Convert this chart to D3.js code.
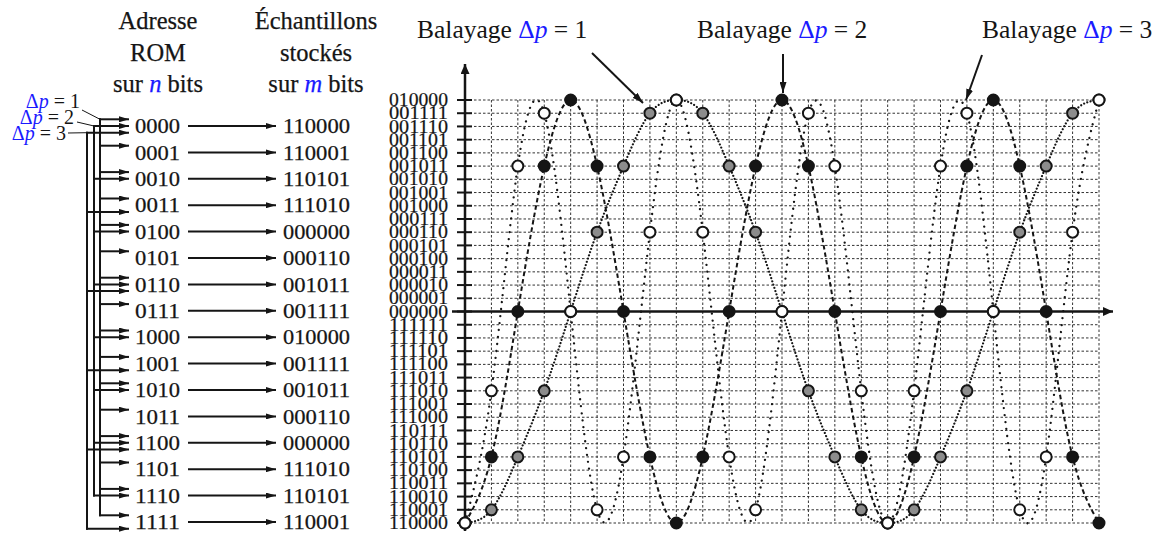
<!DOCTYPE html>
<html>
<head>
<meta charset="utf-8">
<script src="https://cdn.jsdelivr.net/npm/d3@7/dist/d3.min.js"></script>
<style>
  html, body { margin: 0; padding: 0; background: #fff; }
  svg { display: block; font-family: "Liberation Serif", "DejaVu Serif", serif; }
</style>
</head>
<body>
<svg id="chart" width="1162" height="535"></svg>
<script>
// ---------------- DATA ----------------
const romAddresses = ["0000","0001","0010","0011","0100","0101","0110","0111",
                      "1000","1001","1010","1011","1100","1101","1110","1111"];
const romSamples   = ["110000","110001","110101","111010","000000","000110","001011","001111",
                      "010000","001111","001011","000110","000000","111010","110101","110001"];
// ROM addresses reached by each sweep (left tree)
const sweepAddr1 = [0,1,2,3,4,5,6,7,8,9,10,11,12,13,14,15];
const sweepAddr2 = [0,2,4,6,8,10,12,14];
const sweepAddr3 = [0,3,6,9,12,15];
// y axis levels and tick labels (two's complement, 6 bits)
const levelValues = [16,15,14,13,12,11,10,9,8,7,6,5,4,3,2,1,0,
                     -1,-2,-3,-4,-5,-6,-7,-8,-9,-10,-11,-12,-13,-14,-15,-16];
const levelLabels = ["010000","001111","001110","001101","001100","001011","001010","001001",
                     "001000","000111","000110","000101","000100","000011","000010","000001",
                     "000000","111111","111110","111101","111100","111011","111010","111001",
                     "111000","110111","110110","110101","110100","110011","110010","110001","110000"];
// sample index (clock ticks)
const ticks = [0,1,2,3,4,5,6,7,8,9,10,11,12,13,14,15,16,17,18,19,20,21,22,23,24];
// output samples for each sweep
const sweep1 = [-16,-15,-11,-6,0,6,11,15,16,15,11,6,0,-6,-11,-15,-16,-15,-11,-6,0,6,11,15,16];
const sweep2 = [-16,-11,0,11,16,11,0,-11,-16,-11,0,11,16,11,0,-11,-16,-11,0,11,16,11,0,-11,-16];
const sweep3 = [-16,-6,11,15,0,-15,-11,6,16,6,-11,-15,0,15,11,-6,-16,-6,11,15,0,-15,-11,6,16];
const sweepLabels = ["1","2","3"];

// ---------------- DRAW ----------------
const svg = d3.select("#chart");
const BLUE = "#1a1aff";
const INK = "#151515";

const defs = svg.append("defs");
function marker(id, len, wid) {
  defs.append("marker").attr("id", id)
    .attr("viewBox", `0 0 ${len} ${wid}`).attr("refX", len).attr("refY", wid/2)
    .attr("markerWidth", len).attr("markerHeight", wid)
    .attr("markerUnits", "userSpaceOnUse").attr("orient", "auto")
    .append("path").attr("d", `M0,0 L${len},${wid/2} L0,${wid} Z`).attr("fill", INK);
}
marker("ah", 11, 7);
marker("ahs", 10, 6);
marker("ahaxis", 10, 9);

// scales
const x = d3.scaleLinear().domain([0, 24]).range([465, 1099]);
const y = d3.scaleLinear().domain([-16, 16]).range([523, 100]);
const row = d3.scaleLinear().domain([0, 15]).range([126, 522]);

// ---------- left part ----------
const hdr = svg.append("g").attr("font-size", 24.5).attr("fill", INK).attr("text-anchor", "middle")
  .attr("stroke", INK).attr("stroke-width", 0.25);
hdr.append("text").attr("x", 158).attr("y", 29).text("Adresse");
hdr.append("text").attr("x", 158).attr("y", 61).text("ROM");
let t1 = hdr.append("text").attr("x", 158).attr("y", 92);
t1.append("tspan").text("sur ");
t1.append("tspan").attr("fill", BLUE).attr("stroke", BLUE).attr("font-style", "italic").text("n");
t1.append("tspan").text(" bits");
hdr.append("text").attr("x", 316).attr("y", 29).text("Échantillons");
hdr.append("text").attr("x", 316).attr("y", 61).text("stockés");
let t2 = hdr.append("text").attr("x", 316).attr("y", 92);
t2.append("tspan").text("sur ");
t2.append("tspan").attr("fill", BLUE).attr("stroke", BLUE).attr("font-style", "italic").text("m");
t2.append("tspan").text(" bits");

// address & sample rows
const rows = svg.append("g");
romAddresses.forEach((a, k) => {
  rows.append("text").attr("x", 135).attr("y", row(k)).attr("dy", "0.34em")
    .attr("font-size", 21).attr("textLength", 45).attr("lengthAdjust", "spacingAndGlyphs")
    .attr("fill", INK).attr("stroke", INK).attr("stroke-width", 0.25).text(a);
  rows.append("line").attr("x1", 188).attr("x2", 276).attr("y1", row(k)).attr("y2", row(k))
    .attr("stroke", INK).attr("stroke-width", 2).attr("marker-end", "url(#ahs)");
  rows.append("text").attr("x", 283).attr("y", row(k)).attr("dy", "0.34em")
    .attr("font-size", 21).attr("textLength", 67).attr("lengthAdjust", "spacingAndGlyphs")
    .attr("fill", INK).attr("stroke", INK).attr("stroke-width", 0.25).text(romSamples[k]);
});

// sweep trees
const trees = [
  {addr: sweepAddr1, bx: 100, dy: -6.7, lab: sweepLabels[0], lx: 80, ly: 108, from: [82,110]},
  {addr: sweepAddr2, bx: 94,  dy: 0,    lab: sweepLabels[1], lx: 74, ly: 124, from: [77,122]},
  {addr: sweepAddr3, bx: 87,  dy: 6.7,  lab: sweepLabels[2], lx: 66, ly: 140, from: [68,133]}
];
const tg = svg.append("g");
trees.forEach(tr => {
  const first = tr.addr[0], last = tr.addr[tr.addr.length - 1];
  tg.append("line").attr("x1", tr.bx).attr("x2", tr.bx)
    .attr("y1", row(first) + tr.dy - 1).attr("y2", row(last) + tr.dy + 1)
    .attr("stroke", INK).attr("stroke-width", 2);
  tr.addr.forEach(k => {
    tg.append("line").attr("x1", tr.bx - 1).attr("x2", 129)
      .attr("y1", row(k) + tr.dy).attr("y2", row(k) + tr.dy)
      .attr("stroke", INK).attr("stroke-width", 2).attr("marker-end", "url(#ahs)");
  });
  tg.append("line").attr("x1", tr.from[0]).attr("y1", tr.from[1])
    .attr("x2", tr.bx).attr("y2", row(first) + tr.dy)
    .attr("stroke", INK).attr("stroke-width", 1);
  const lt = tg.append("text").attr("x", tr.lx).attr("y", tr.ly)
    .attr("font-size", 20).attr("text-anchor", "end").attr("fill", INK);
  lt.append("tspan").attr("fill", BLUE).text("Δ");
  lt.append("tspan").attr("fill", BLUE).attr("font-style", "italic").text("p");
  lt.append("tspan").text(" = " + tr.lab);
});

// ---------- right chart ----------
const grid = svg.append("g").attr("stroke", "#333").attr("stroke-width", 1)
  .attr("stroke-dasharray", "2.5,2");
levelValues.filter(v => v !== 0).forEach(v => {
  grid.append("line").attr("x1", x(0)).attr("x2", x(24)).attr("y1", y(v)).attr("y2", y(v));
});
ticks.filter(t => t > 0).forEach(t => {
  grid.append("line").attr("x1", x(t)).attr("x2", x(t)).attr("y1", y(16)).attr("y2", y(-16));
});

// axes
const ax = svg.append("g").attr("stroke", INK);
ax.append("line").attr("x1", x(0)).attr("x2", x(0)).attr("y1", 531).attr("y2", 64)
  .attr("stroke-width", 2.5).attr("marker-end", "url(#ahaxis)");
ax.append("line").attr("x1", 452).attr("x2", 1113).attr("y1", y(0)).attr("y2", y(0))
  .attr("stroke-width", 2.5).attr("marker-end", "url(#ahaxis)");
levelValues.forEach(v => {
  ax.append("line").attr("x1", 457).attr("x2", 472).attr("y1", y(v)).attr("y2", y(v))
    .attr("stroke-width", 2);
});
const yl = svg.append("g").attr("font-size", 18).attr("fill", INK).attr("text-anchor", "end")
  .attr("stroke", INK).attr("stroke-width", 0.2);
levelValues.forEach((v, i) => {
  yl.append("text").attr("x", 448).attr("y", y(v)).attr("dy", "0.34em")
    .attr("textLength", 59).attr("lengthAdjust", "spacingAndGlyphs").text(levelLabels[i]);
});

// curves
const line = d3.line().x((d, i) => x(ticks[i])).y(d => y(d)).curve(d3.curveNatural);
const curves = svg.append("g").attr("fill", "none").attr("stroke", INK);
curves.append("path").attr("d", line(sweep1)).attr("stroke-width", 2.2)
  .attr("stroke-dasharray", "0.01,3.4").attr("stroke-linecap", "round");
curves.append("path").attr("d", line(sweep2)).attr("stroke-width", 2)
  .attr("stroke-dasharray", "4.5,3");
curves.append("path").attr("d", line(sweep3)).attr("stroke-width", 2.3)
  .attr("stroke-dasharray", "0.01,7").attr("stroke-linecap", "round");

// points
const pts = svg.append("g").attr("stroke", INK).attr("stroke-width", 2);
[[sweep1, "#8c8c8c"], [sweep2, INK], [sweep3, "#ffffff"]].forEach(([s, fill]) => {
  s.forEach((v, i) => {
    pts.append("circle").attr("cx", x(ticks[i])).attr("cy", y(v)).attr("r", 5.5).attr("fill", fill);
  });
});

// titles and pointers
const titles = [
  {lab: sweepLabels[0], tx: 417, from: [592, 53], to: [643, 103]},
  {lab: sweepLabels[1], tx: 697, from: [783, 54], to: [783, 93]},
  {lab: sweepLabels[2], tx: 982, from: [982, 55], to: [966, 100]}
];
const tt = svg.append("g").attr("font-size", 25.5).attr("fill", INK);
titles.forEach(d => {
  const t = tt.append("text").attr("x", d.tx).attr("y", 38);
  t.append("tspan").text("Balayage ");
  t.append("tspan").attr("fill", BLUE).text("Δ");
  t.append("tspan").attr("fill", BLUE).attr("font-style", "italic").text("p");
  t.append("tspan").text(" = " + d.lab);
  svg.append("line").attr("x1", d.from[0]).attr("y1", d.from[1]).attr("x2", d.to[0]).attr("y2", d.to[1])
    .attr("stroke", INK).attr("stroke-width", 2).attr("marker-end", "url(#ah)");
});
</script>
</body>
</html>
